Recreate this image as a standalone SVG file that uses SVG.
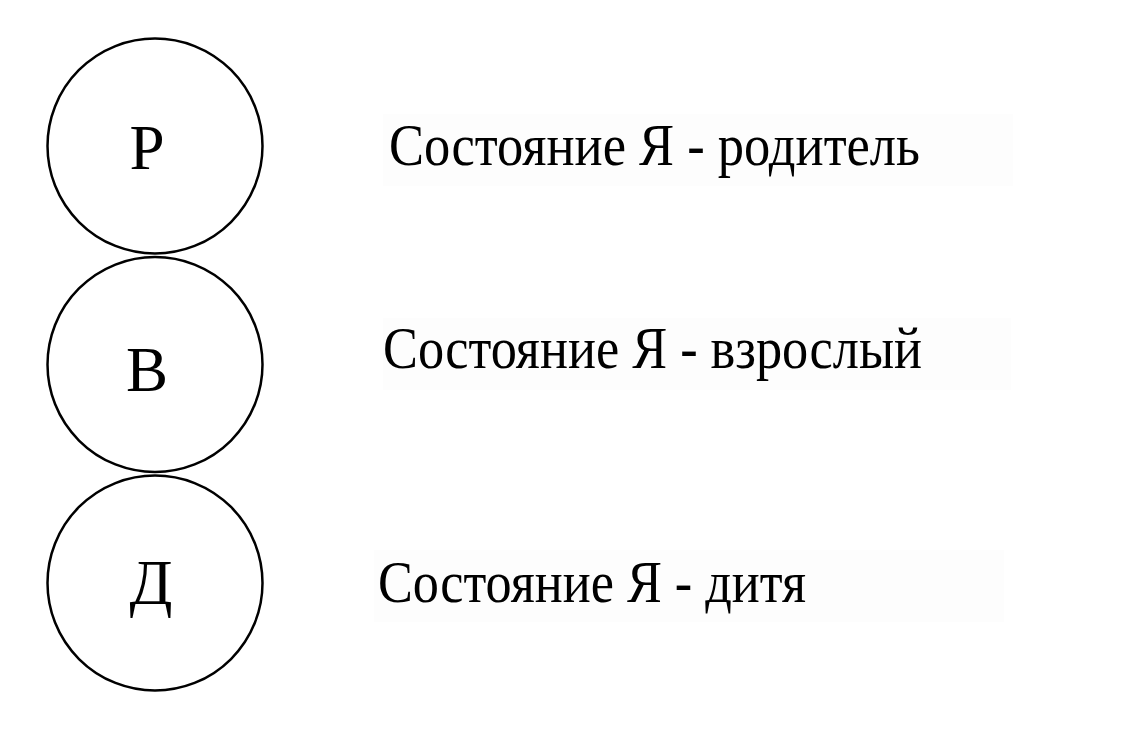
<svg xmlns="http://www.w3.org/2000/svg" width="1126" height="751" viewBox="0 0 1126 751">
<style>
.c{fill:#fff;stroke:#000;stroke-width:2.5}
.l{font-family:"Liberation Serif","Times New Roman",serif;font-size:63px;fill:#000;text-anchor:middle}
.b{fill:#fdfdfd;stroke:none}
.t{font-family:"Liberation Serif","Times New Roman",serif;font-size:59px;fill:#000}
</style>
<rect width="1126" height="751" fill="#fff"/>
<g id="connectors"></g>
<g id="node-p">
<circle class="c" cx="155" cy="146" r="107.5"/>
<text class="l" x="147" y="169">Р</text>
</g>
<g id="node-v">
<circle class="c" cx="155" cy="364.5" r="107.5"/>
<text class="l" x="147" y="391">В</text>
</g>
<g id="node-d">
<circle class="c" cx="155" cy="583" r="107.5"/>
<text class="l" x="151" y="604">Д</text>
</g>
<g id="label-p">
<rect class="b" x="383" y="114" width="630" height="72"/>
<text class="t" x="389" y="165" textLength="531" lengthAdjust="spacingAndGlyphs">Состояние Я - родитель</text>
</g>
<g id="label-v">
<rect class="b" x="383" y="318" width="628" height="72"/>
<text class="t" x="383" y="368" textLength="539" lengthAdjust="spacingAndGlyphs">Состояние Я - взрослый</text>
</g>
<g id="label-d">
<rect class="b" x="374" y="550" width="630" height="72"/>
<text class="t" x="378" y="602" textLength="428" lengthAdjust="spacingAndGlyphs">Состояние Я - дитя</text>
</g>
</svg>
